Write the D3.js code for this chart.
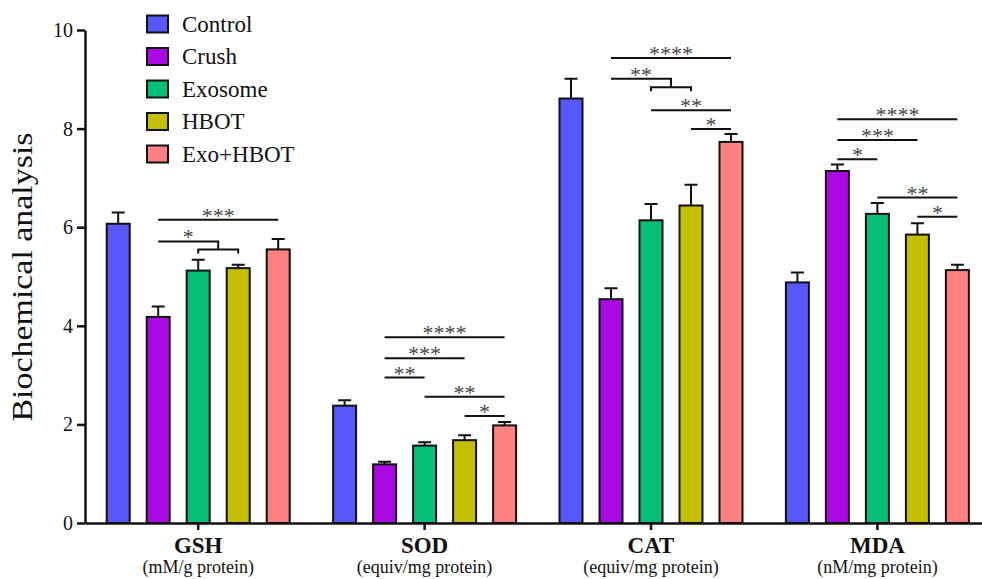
<!DOCTYPE html>
<html>
<head>
<meta charset="utf-8">
<script src="https://cdn.jsdelivr.net/npm/d3@7"></script>
<style>
  body { margin: 0; background: #fff; }
</style>
</head>
<body>
<div id="chart"></div>
<script>
const groups = ['GSH', 'SOD', 'CAT', 'MDA'];
const units = ['(mM/g protein)', '(equiv/mg protein)', '(equiv/mg protein)', '(nM/mg protein)'];
const series = ['Control', 'Crush', 'Exosome', 'HBOT', 'Exo+HBOT'];
const colors = ['#5757FA', '#AA09E4', '#05BE78', '#C3BF00', '#FF8080'];

// mean values per group, in series order
const means = [
  [6.07, 4.18, 5.12, 5.17, 5.55],
  [2.38, 1.19, 1.57, 1.68, 1.98],
  [8.61, 4.54, 6.14, 6.44, 7.73],
  [4.88, 7.14, 6.27, 5.85, 5.13]
];
const errors = [
  [0.23, 0.21, 0.22, 0.07, 0.21],
  [0.11, 0.05, 0.07, 0.10, 0.07],
  [0.40, 0.22, 0.33, 0.42, 0.16],
  [0.20, 0.13, 0.22, 0.23, 0.11]
];
const yTicks = [0, 2, 4, 6, 8, 10];

// significance marks: group index, from bar, to bar (or [a,b] sub-bracket), level, label
const sigs = [
  { g: 0, a: 1, b: 4, level: 6.15, label: '***' },
  { g: 0, a: 1, b: [2, 3], level: 5.71, sub: 5.55, label: '*' },
  { g: 1, a: 1, b: 4, level: 3.77, label: '****' },
  { g: 1, a: 1, b: 3, level: 3.34, label: '***' },
  { g: 1, a: 1, b: 2, level: 2.95, label: '**' },
  { g: 1, a: 2, b: 4, level: 2.56, label: '**' },
  { g: 1, a: 3, b: 4, level: 2.17, label: '*' },
  { g: 2, a: 1, b: 4, level: 9.43, label: '****' },
  { g: 2, a: 1, b: [2, 3], level: 9.01, sub: 8.84, label: '**' },
  { g: 2, a: 2, b: 4, level: 8.37, label: '**' },
  { g: 2, a: 3, b: 4, level: 7.99, label: '*' },
  { g: 3, a: 1, b: 4, level: 8.19, label: '****' },
  { g: 3, a: 1, b: 3, level: 7.77, label: '***' },
  { g: 3, a: 1, b: 2, level: 7.38, label: '*' },
  { g: 3, a: 2, b: 4, level: 6.60, label: '**' },
  { g: 3, a: 3, b: 4, level: 6.21, label: '*' }
];

const FONT = 'Liberation Serif, Tinos, DejaVu Serif, Noto Serif, serif';
const W = 982, H = 579;
const svg = d3.select('#chart').append('svg').attr('width', W).attr('height', H)
  .attr('font-family', FONT);

const x0 = d3.scaleBand().domain(groups).range([85, 990.6]).padding(0);
const x1 = d3.scaleBand().domain(series).range([-100, 100]).paddingInner(0.375).paddingOuter(0.1875);
const y = d3.scaleLinear().domain([0, 10]).range([523, 30]);

const cx = (g, i) => x0(groups[g]) + x0.bandwidth() / 2 + x1(series[i]) + x1.bandwidth() / 2;

// bars
groups.forEach((grp, g) => {
  const gg = svg.append('g');
  gg.selectAll('rect')
    .data(means[g])
    .enter().append('rect')
    .attr('x', (d, i) => cx(g, i) - x1.bandwidth() / 2 + 1)
    .attr('width', x1.bandwidth() - 2)
    .attr('y', d => y(d))
    .attr('height', d => y(0) - y(d))
    .attr('fill', (d, i) => colors[i])
    .attr('stroke', '#111')
    .attr('stroke-width', 2);

  // error bars
  gg.selectAll('path.err')
    .data(means[g])
    .enter().append('path')
    .attr('class', 'err')
    .attr('d', (d, i) => {
      const c = cx(g, i), top = y(d + errors[g][i]);
      return 'M' + c + ',' + y(d) + 'V' + top + 'M' + (c - 6.5) + ',' + top + 'H' + (c + 6.5);
    })
    .attr('stroke', '#111')
    .attr('stroke-width', 2)
    .attr('fill', 'none');
});

// axes
const yAxis = svg.append('g')
  .attr('transform', 'translate(85,0)')
  .call(d3.axisLeft(y).tickValues(yTicks).tickSize(8).tickSizeOuter(0).tickPadding(4))
  .attr('font-family', FONT)
  .attr('font-size', 20);
yAxis.select('.domain').attr('stroke-width', 2.5).attr('stroke', '#111');
yAxis.selectAll('.tick line').attr('stroke-width', 2.5).attr('stroke', '#111');
yAxis.selectAll('.tick text').attr('fill', '#111');

const xAxis = svg.append('g')
  .attr('transform', 'translate(0,523)')
  .call(d3.axisBottom(x0).tickSize(7).tickSizeOuter(0).tickFormat(''));
xAxis.select('.domain').attr('stroke-width', 2.5).attr('stroke', '#111');
xAxis.selectAll('.tick line').attr('stroke-width', 2.5).attr('stroke', '#111');

// group labels
groups.forEach((grp, g) => {
  const c = x0(grp) + x0.bandwidth() / 2;
  svg.append('text')
    .attr('x', c).attr('y', 552.5)
    .attr('text-anchor', 'middle')
    .attr('font-size', 23).attr('font-weight', 'bold')
    .attr('fill', '#111')
    .text(grp);
  svg.append('text')
    .attr('x', c).attr('y', 573)
    .attr('text-anchor', 'middle')
    .attr('font-size', 18)
    .attr('fill', '#111')
    .text(units[g]);
});

// y title
svg.append('text')
  .attr('transform', 'translate(32,277) rotate(-90)')
  .attr('text-anchor', 'middle')
  .attr('textLength', 289)
  .attr('lengthAdjust', 'spacingAndGlyphs')
  .attr('font-size', 29)
  .attr('fill', '#111')
  .text('Biochemical analysis');

// significance brackets
sigs.forEach(s => {
  const xa = cx(s.g, s.a);
  const ly = y(s.level);
  let xb, path;
  if (Array.isArray(s.b)) {
    const l = cx(s.g, s.b[0]), r = cx(s.g, s.b[1]);
    xb = (l + r) / 2;
    const sy = y(s.sub);
    path = 'M' + xa + ',' + ly + 'H' + xb + 'V' + sy +
      'M' + l + ',' + (sy + 4) + 'V' + sy + 'H' + r + 'V' + (sy + 4);
  } else {
    xb = cx(s.g, s.b);
    path = 'M' + xa + ',' + ly + 'H' + xb;
  }
  svg.append('path')
    .attr('d', path)
    .attr('stroke', '#111')
    .attr('stroke-width', 2)
    .attr('fill', 'none');
  svg.append('text')
    .attr('x', (xa + xb) / 2)
    .attr('y', ly + 3)
    .attr('text-anchor', 'middle')
    .attr('font-size', 22)
    .attr('fill', '#444')
    .text(s.label);
});

// legend
const legend = svg.append('g');
series.forEach((s, i) => {
  const ly = 24 + i * 32.5;
  legend.append('rect')
    .attr('x', 147).attr('y', ly - 8.5)
    .attr('width', 21).attr('height', 17)
    .attr('fill', colors[i])
    .attr('stroke', '#111')
    .attr('stroke-width', 2);
  legend.append('text')
    .attr('x', 182).attr('y', ly + 7.5)
    .attr('font-size', 23)
    .attr('fill', '#111')
    .text(s);
});
</script>
</body>
</html>
